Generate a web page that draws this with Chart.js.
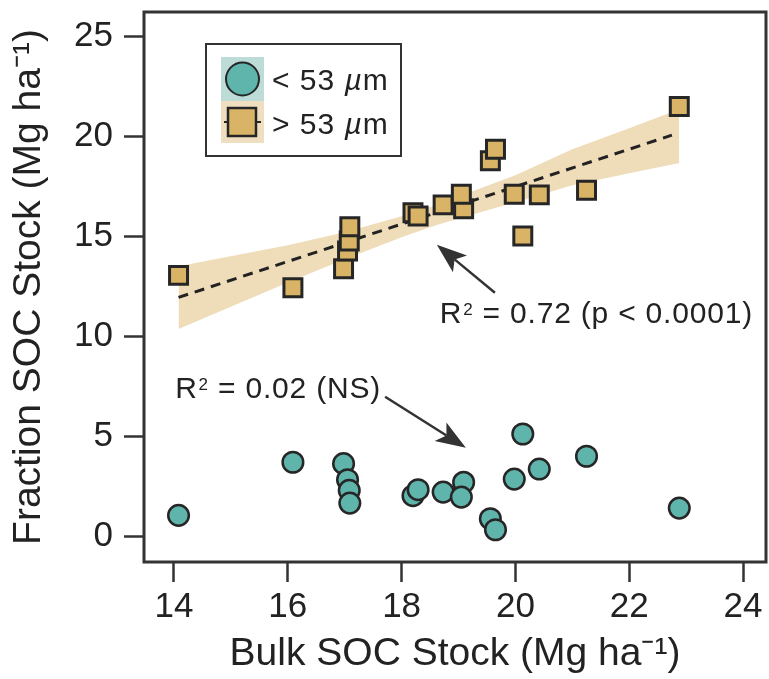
<!DOCTYPE html>
<html>
<head>
<meta charset="utf-8">
<script src="https://cdn.jsdelivr.net/npm/chart.js@4.4.1/dist/chart.umd.min.js"></script>
<style>
  html, body { margin: 0; padding: 0; background: #fff; }
  canvas { display: block; }
</style>
</head>
<body>
<canvas id="socChart" width="769" height="679"></canvas>
<script>
// bulk SOC stock per plot and its two size fractions (Mg ha-1)
const bulkSoc   = [14.08, 16.09, 16.98, 17.05, 17.08, 17.09, 18.20, 18.29, 18.73, 19.09, 19.05, 19.56, 19.65, 19.98, 20.42, 20.13, 21.25, 22.88];
const fineSoc   = [1.07, 3.72, 3.65, 2.85, 2.32, 1.68, 2.05, 2.35, 2.23, 2.72, 1.98, 0.90, 0.35, 2.88, 3.38, 5.13, 4.02, 1.43];
const coarseSoc = [13.05, 12.43, 13.38, 14.27, 14.77, 15.48, 16.18, 16.02, 16.57, 16.38, 17.10, 18.77, 19.35, 17.10, 17.07, 15.02, 17.30, 21.48];

// fitted line and confidence band for the > 53 um fraction
const fitX = [14.08, 22.75];
const fitY = [11.95, 20.05];
const bandX     = [14.08, 16.0, 17.0, 18.0, 18.6, 19.2, 20.0, 21.0, 22.0, 22.88];
const bandUpper = [13.50, 14.55, 15.20, 16.00, 16.55, 17.20, 18.05, 19.35, 20.40, 21.35];
const bandLower = [10.37, 12.70, 13.85, 14.95, 15.55, 16.05, 16.70, 17.55, 18.15, 18.66];

const xTickValues = [14, 16, 18, 20, 22, 24];
const yTickValues = [0, 5, 10, 15, 20, 25];
const seriesLabels = ['< 53 ', '> 53 '];
const fitLabels = [' = 0.72 (p < 0.0001)', ' = 0.02 (NS)'];

const TEAL = '#5fb4ab';
const TAN = '#d9b467';
const INK = '#262626';
const FONT = '"Liberation Sans", Arial, Helvetica, sans-serif';

Chart.defaults.font.family = FONT;
Chart.defaults.color = '#222';

function pts(xs, ys) {
    return xs.map((x, i) => ({ x: x, y: ys[i] }));
}

// keep the plot box where the reference has it
function noPadding(scale) {
    scale.paddingTop = 0;
    scale.paddingBottom = 0;
    scale.paddingLeft = 0;
    scale.paddingRight = 0;
}

function drawArrow(ctx, x1, y1, x2, y2) {
    const ang = Math.atan2(y2 - y1, x2 - x1);
    const len = 30, half = 11, notch = 7;
    const cos = Math.cos(ang), sin = Math.sin(ang);
    const bx = x2 - len * cos, by = y2 - len * sin;
    ctx.strokeStyle = '#333';
    ctx.fillStyle = '#333';
    ctx.lineWidth = 2.5;
    ctx.beginPath();
    ctx.moveTo(x1, y1);
    ctx.lineTo(x2 - (len - notch) * cos, y2 - (len - notch) * sin);
    ctx.stroke();
    ctx.beginPath();
    ctx.moveTo(x2, y2);
    ctx.lineTo(bx - half * sin, by + half * cos);
    ctx.lineTo(x2 - (len - notch) * cos, y2 - (len - notch) * sin);
    ctx.lineTo(bx + half * sin, by - half * cos);
    ctx.closePath();
    ctx.fill();
}

function drawR2(ctx, x, y, rest) {
    ctx.fillStyle = '#222';
    ctx.textBaseline = 'alphabetic';
    ctx.textAlign = 'left';
    ctx.letterSpacing = '0.8px';
    ctx.font = '30px ' + FONT;
    ctx.fillText('R', x, y);
    let w = ctx.measureText('R').width + 1;
    ctx.font = '17px ' + FONT;
    ctx.fillText('2', x + w, y - 8);
    w += ctx.measureText('2').width;
    ctx.font = '30px ' + FONT;
    ctx.fillText(rest, x + w, y);
    ctx.letterSpacing = '0px';
}

const decorPlugin = {
    id: 'decor',
    afterDraw(chart) {
        const ctx = chart.ctx;
        const xs = chart.scales.x, ys = chart.scales.y;
        const a = chart.chartArea;
        ctx.save();

        // frame
        ctx.strokeStyle = '#333';
        ctx.lineWidth = 3;
        ctx.strokeRect(a.left, a.top, a.right - a.left, a.bottom - a.top);

        // arrows and fit labels
        drawArrow(ctx, xs.getPixelForValue(19.64), ys.getPixelForValue(12.18),
                       xs.getPixelForValue(18.62), ys.getPixelForValue(14.58));
        drawArrow(ctx, xs.getPixelForValue(17.71), ys.getPixelForValue(6.99),
                       xs.getPixelForValue(19.13), ys.getPixelForValue(4.44));
        drawR2(ctx, xs.getPixelForValue(18.67), ys.getPixelForValue(10.68), fitLabels[0]);
        drawR2(ctx, xs.getPixelForValue(14.02), ys.getPixelForValue(6.94), fitLabels[1]);

        // legend
        const lx = a.left + 62, ly = a.top + 32;
        ctx.fillStyle = '#fff';
        ctx.fillRect(lx, ly, 195, 112);
        ctx.strokeStyle = '#333';
        ctx.lineWidth = 2;
        ctx.strokeRect(lx, ly, 195, 112);
        ctx.fillStyle = '#bddcd8';
        ctx.fillRect(lx + 15, ly + 13, 43, 44);
        ctx.fillStyle = '#efdfc0';
        ctx.fillRect(lx + 15, ly + 57, 43, 42);

        ctx.fillStyle = TEAL;
        ctx.strokeStyle = INK;
        ctx.lineWidth = 2;
        ctx.beginPath();
        ctx.arc(lx + 36.5, ly + 35, 16.5, 0, Math.PI * 2);
        ctx.fill();
        ctx.stroke();

        ctx.lineWidth = 2;
        ctx.beginPath();
        ctx.moveTo(lx + 18, ly + 78);
        ctx.lineTo(lx + 55, ly + 78);
        ctx.stroke();
        ctx.fillStyle = TAN;
        ctx.lineWidth = 2.5;
        ctx.fillRect(lx + 22, ly + 64, 28, 28);
        ctx.strokeRect(lx + 22, ly + 64, 28, 28);

        ctx.fillStyle = '#222';
        ctx.textBaseline = 'alphabetic';
        ctx.letterSpacing = '1px';
        seriesLabels.forEach((lab, i) => {
            const by = ly + 46 + i * 44;
            let tx = lx + 66;
            ctx.font = '30px ' + FONT;
            ctx.fillText(lab, tx, by);
            tx += ctx.measureText(lab).width;
            ctx.font = 'italic 30px ' + FONT;
            ctx.fillText('\u00b5', tx, by);
            tx += ctx.measureText('\u00b5').width;
            ctx.font = '30px ' + FONT;
            ctx.fillText('m', tx, by);
        });
        ctx.restore();
    }
};

const ctx = document.getElementById('socChart').getContext('2d');
const socChart = new Chart(ctx, {
    type: 'scatter',
    data: {
        datasets: [
            {
                label: 'fine',
                data: pts(bulkSoc, fineSoc),
                pointStyle: 'circle',
                pointRadius: 10.3,
                backgroundColor: TEAL,
                borderColor: INK,
                borderWidth: 2.5,
                order: 0
            },
            {
                label: 'coarse',
                data: pts(bulkSoc, coarseSoc),
                pointStyle: 'rect',
                pointRadius: 12.7,
                backgroundColor: TAN,
                borderColor: INK,
                borderWidth: 3,
                order: 0
            },
            {
                type: 'line',
                label: 'fit',
                data: pts(fitX, fitY),
                borderColor: '#222',
                borderWidth: 3,
                borderDash: [10, 7],
                pointRadius: 0,
                fill: false,
                order: 1
            },
            {
                type: 'line',
                label: 'band upper',
                data: pts(bandX, bandUpper),
                borderWidth: 0,
                borderColor: 'rgba(0,0,0,0)',
                backgroundColor: '#efdcb9',
                pointRadius: 0,
                fill: '+1',
                order: 2
            },
            {
                type: 'line',
                label: 'band lower',
                data: pts(bandX, bandLower),
                borderWidth: 0,
                borderColor: 'rgba(0,0,0,0)',
                pointRadius: 0,
                fill: false,
                order: 2
            }
        ]
    },
    options: {
        responsive: false,
        animation: false,
        events: [],
        layout: {
            autoPadding: false,
            padding: { top: 12, right: 3, left: 0, bottom: 0 }
        },
        plugins: {
            legend: { display: false },
            tooltip: { enabled: false }
        },
        scales: {
            x: {
                type: 'linear',
                min: 13.473,
                max: 24.404,
                afterFit: function(scale) { scale.height = 117; noPadding(scale); },
                afterBuildTicks: function(scale) {
                    scale.ticks = xTickValues.map(v => ({ value: v }));
                },
                grid: {
                    drawOnChartArea: false,
                    drawTicks: true,
                    tickLength: 20,
                    tickColor: '#333',
                    tickWidth: 2.5
                },
                border: { display: false },
                ticks: {
                    font: { size: 35 },
                    color: '#222',
                    padding: 4,
                    maxRotation: 0,
                    callback: v => String(v)
                },
                title: {
                    display: true,
                    text: 'Bulk SOC Stock (Mg ha\u207b\u00b9)',
                    font: { size: 39, lineHeight: 1 },
                    color: '#222',
                    padding: { top: 0, bottom: 5 }
                }
            },
            y: {
                type: 'linear',
                min: -1.26,
                max: 26.2,
                afterFit: function(scale) { scale.width = 144; noPadding(scale); },
                afterBuildTicks: function(scale) {
                    scale.ticks = yTickValues.map(v => ({ value: v }));
                },
                grid: {
                    drawOnChartArea: false,
                    drawTicks: true,
                    tickLength: 20,
                    tickColor: '#333',
                    tickWidth: 2.5
                },
                border: { display: false },
                ticks: {
                    font: { size: 35 },
                    color: '#222',
                    padding: 11,
                    callback: v => String(v)
                },
                title: {
                    display: true,
                    text: 'Fraction SOC Stock (Mg ha\u207b\u00b9)',
                    font: { size: 39, lineHeight: 1 },
                    color: '#222',
                    padding: { top: 10, bottom: 0 }
                }
            }
        }
    },
    plugins: [decorPlugin]
});
</script>
</body>
</html>
